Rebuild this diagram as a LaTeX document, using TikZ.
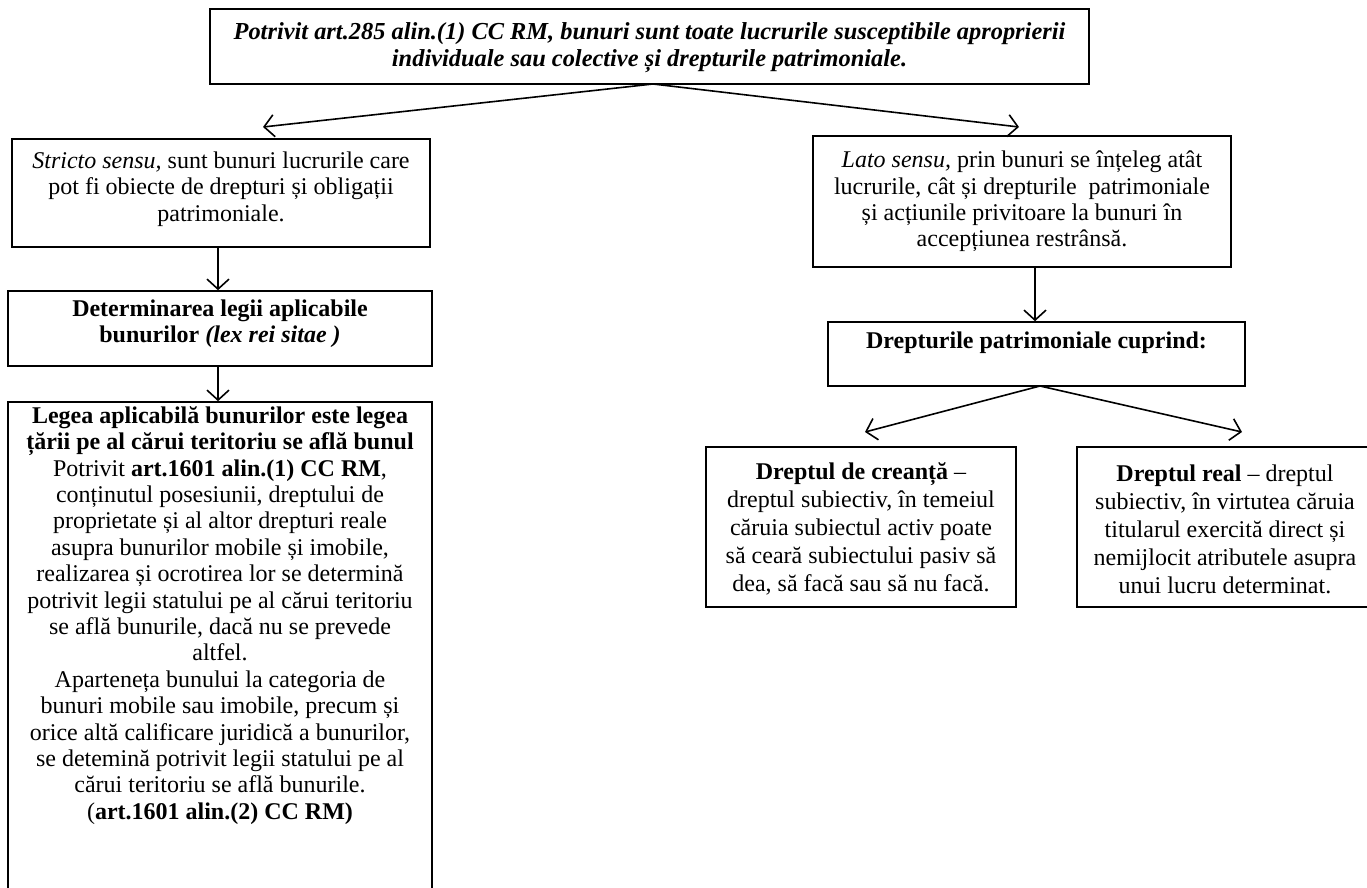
\documentclass[tikz,border=0pt]{standalone}
\usepackage{fontspec}
\setmainfont{Liberation Serif}
\usetikzlibrary{arrows.meta}
\tikzset{
  box/.style={draw=black, line width=0.8pt, rectangle, inner sep=0pt, align=center,
    font=\fontsize{12}{13.2}\selectfont},
  txt/.style={inner sep=0pt, align=center, font=\fontsize{12}{13.2}\selectfont},
  conn/.style={line width=0.8pt, -{Straight Barb[length=5pt,width=11pt,line width=0.8pt]}}
}
\begin{document}
\begin{tikzpicture}[x=0.5pt,y=-0.5pt]
\clip (0,0) rectangle (1367,888);
\fill[white] (0,0) rectangle (1367,888);
% top
\node[box, minimum width=439.5pt, minimum height=37.5pt] (top) at (649.5,46.5) {};
\node[txt, font=\fontsize{12.2}{13.5}\selectfont\bfseries\itshape] (top-t) at (649.5,48)
  {Potrivit art.285 alin.(1) CC RM, bunuri sunt toate lucrurile susceptibile aproprierii\\
   individuale sau colective și drepturile patrimoniale.};
% left column
\node[box, minimum width=209pt, minimum height=54pt] (stricto) at (221,193) {};
\node[txt] (stricto-t) at (221,189)
  {\textit{Stricto sensu,} sunt bunuri lucrurile care\\ pot fi obiecte de drepturi și obligații\\ patrimoniale.};
\node[box, minimum width=212pt, minimum height=37.5pt] (determ) at (220,328.5) {};
\node[txt, font=\fontsize{12}{13.2}\selectfont\bfseries] (determ-t) at (220,324)
  {Determinarea legii aplicabile\\ bunurilor \textit{(lex rei sitae )}};
\node[box, minimum width=212pt, minimum height=249pt] (legea) at (220,651) {};
\node[txt, anchor=north] (legea-t) at (220,406)
  {\textbf{Legea aplicabilă bunurilor este legea}\\
   \textbf{țării pe al cărui teritoriu se află bunul}\\
   Potrivit \textbf{art.1601 alin.(1) CC RM},\\
   conținutul posesiunii, dreptului de\\
   proprietate și al altor drepturi reale\\
   asupra bunurilor mobile și imobile,\\
   realizarea și ocrotirea lor se determină\\
   potrivit legii statului pe al cărui teritoriu\\
   se află bunurile, dacă nu se prevede\\
   altfel.\\
   Aparteneța bunului la categoria de\\
   bunuri mobile sau imobile, precum și\\
   orice altă calificare juridică a bunurilor,\\
   se detemină potrivit legii statului pe al\\
   cărui teritoriu se află bunurile.\\
   (\textbf{art.1601 alin.(2) CC RM)}};
% right column
\node[box, minimum width=209pt, minimum height=65.5pt] (lato) at (1022,201.5)
  {\textit{Lato sensu,} prin bunuri se înțeleg atât\\ lucrurile, cât și drepturile\ \ patrimoniale\\ și acțiunile privitoare la bunuri în\\ accepțiunea restrânsă.};
\node[box, minimum width=208.5pt, minimum height=32pt] (dpat) at (1036.5,354) {};
\node[txt, font=\fontsize{12}{13.2}\selectfont\bfseries] (dpat-t) at (1036.5,343) {Drepturile patrimoniale cuprind:};
\node[box, minimum width=155pt, minimum height=80pt] (creanta) at (861,527) {};
\node[txt, font=\fontsize{12}{14}\selectfont] (creanta-t) at (861,529)
  {\textbf{Dreptul de creanță} –\\ dreptul subiectiv, în temeiul\\ căruia subiectul activ poate\\ să ceară subiectului pasiv să\\ dea, să facă sau să nu facă.};
\node[box, minimum width=148pt, minimum height=80pt] (real) at (1225,527) {};
\node[txt, font=\fontsize{12}{14}\selectfont] (real-t) at (1225,529)
  {\textbf{Dreptul real} – dreptul\\ subiectiv, în virtutea căruia\\ titularul exercită direct și\\ nemijlocit atributele asupra\\ unui lucru determinat.};
% connectors
\coordinate (t1) at (263,127);
\coordinate (t2) at (1019,127);
\coordinate (topsrc) at (653,84);
\draw[conn] (topsrc) -- (t1);
\draw[conn] (topsrc) -- (t2);
\draw[conn] (218,247) coordinate (s1) -- (determ.north -| s1);
\draw[conn] (218,366) coordinate (s2) -- (legea.north -| s2);
\draw[conn] (1035,267) coordinate (s3) -- (dpat.north -| s3);
\coordinate (dsrc) at (1040,386);
\coordinate (c1) at (865,432);
\coordinate (c2) at (1242,432);
\draw[conn] (dsrc) -- (c1);
\draw[conn] (dsrc) -- (c2);
\end{tikzpicture}
\end{document}
